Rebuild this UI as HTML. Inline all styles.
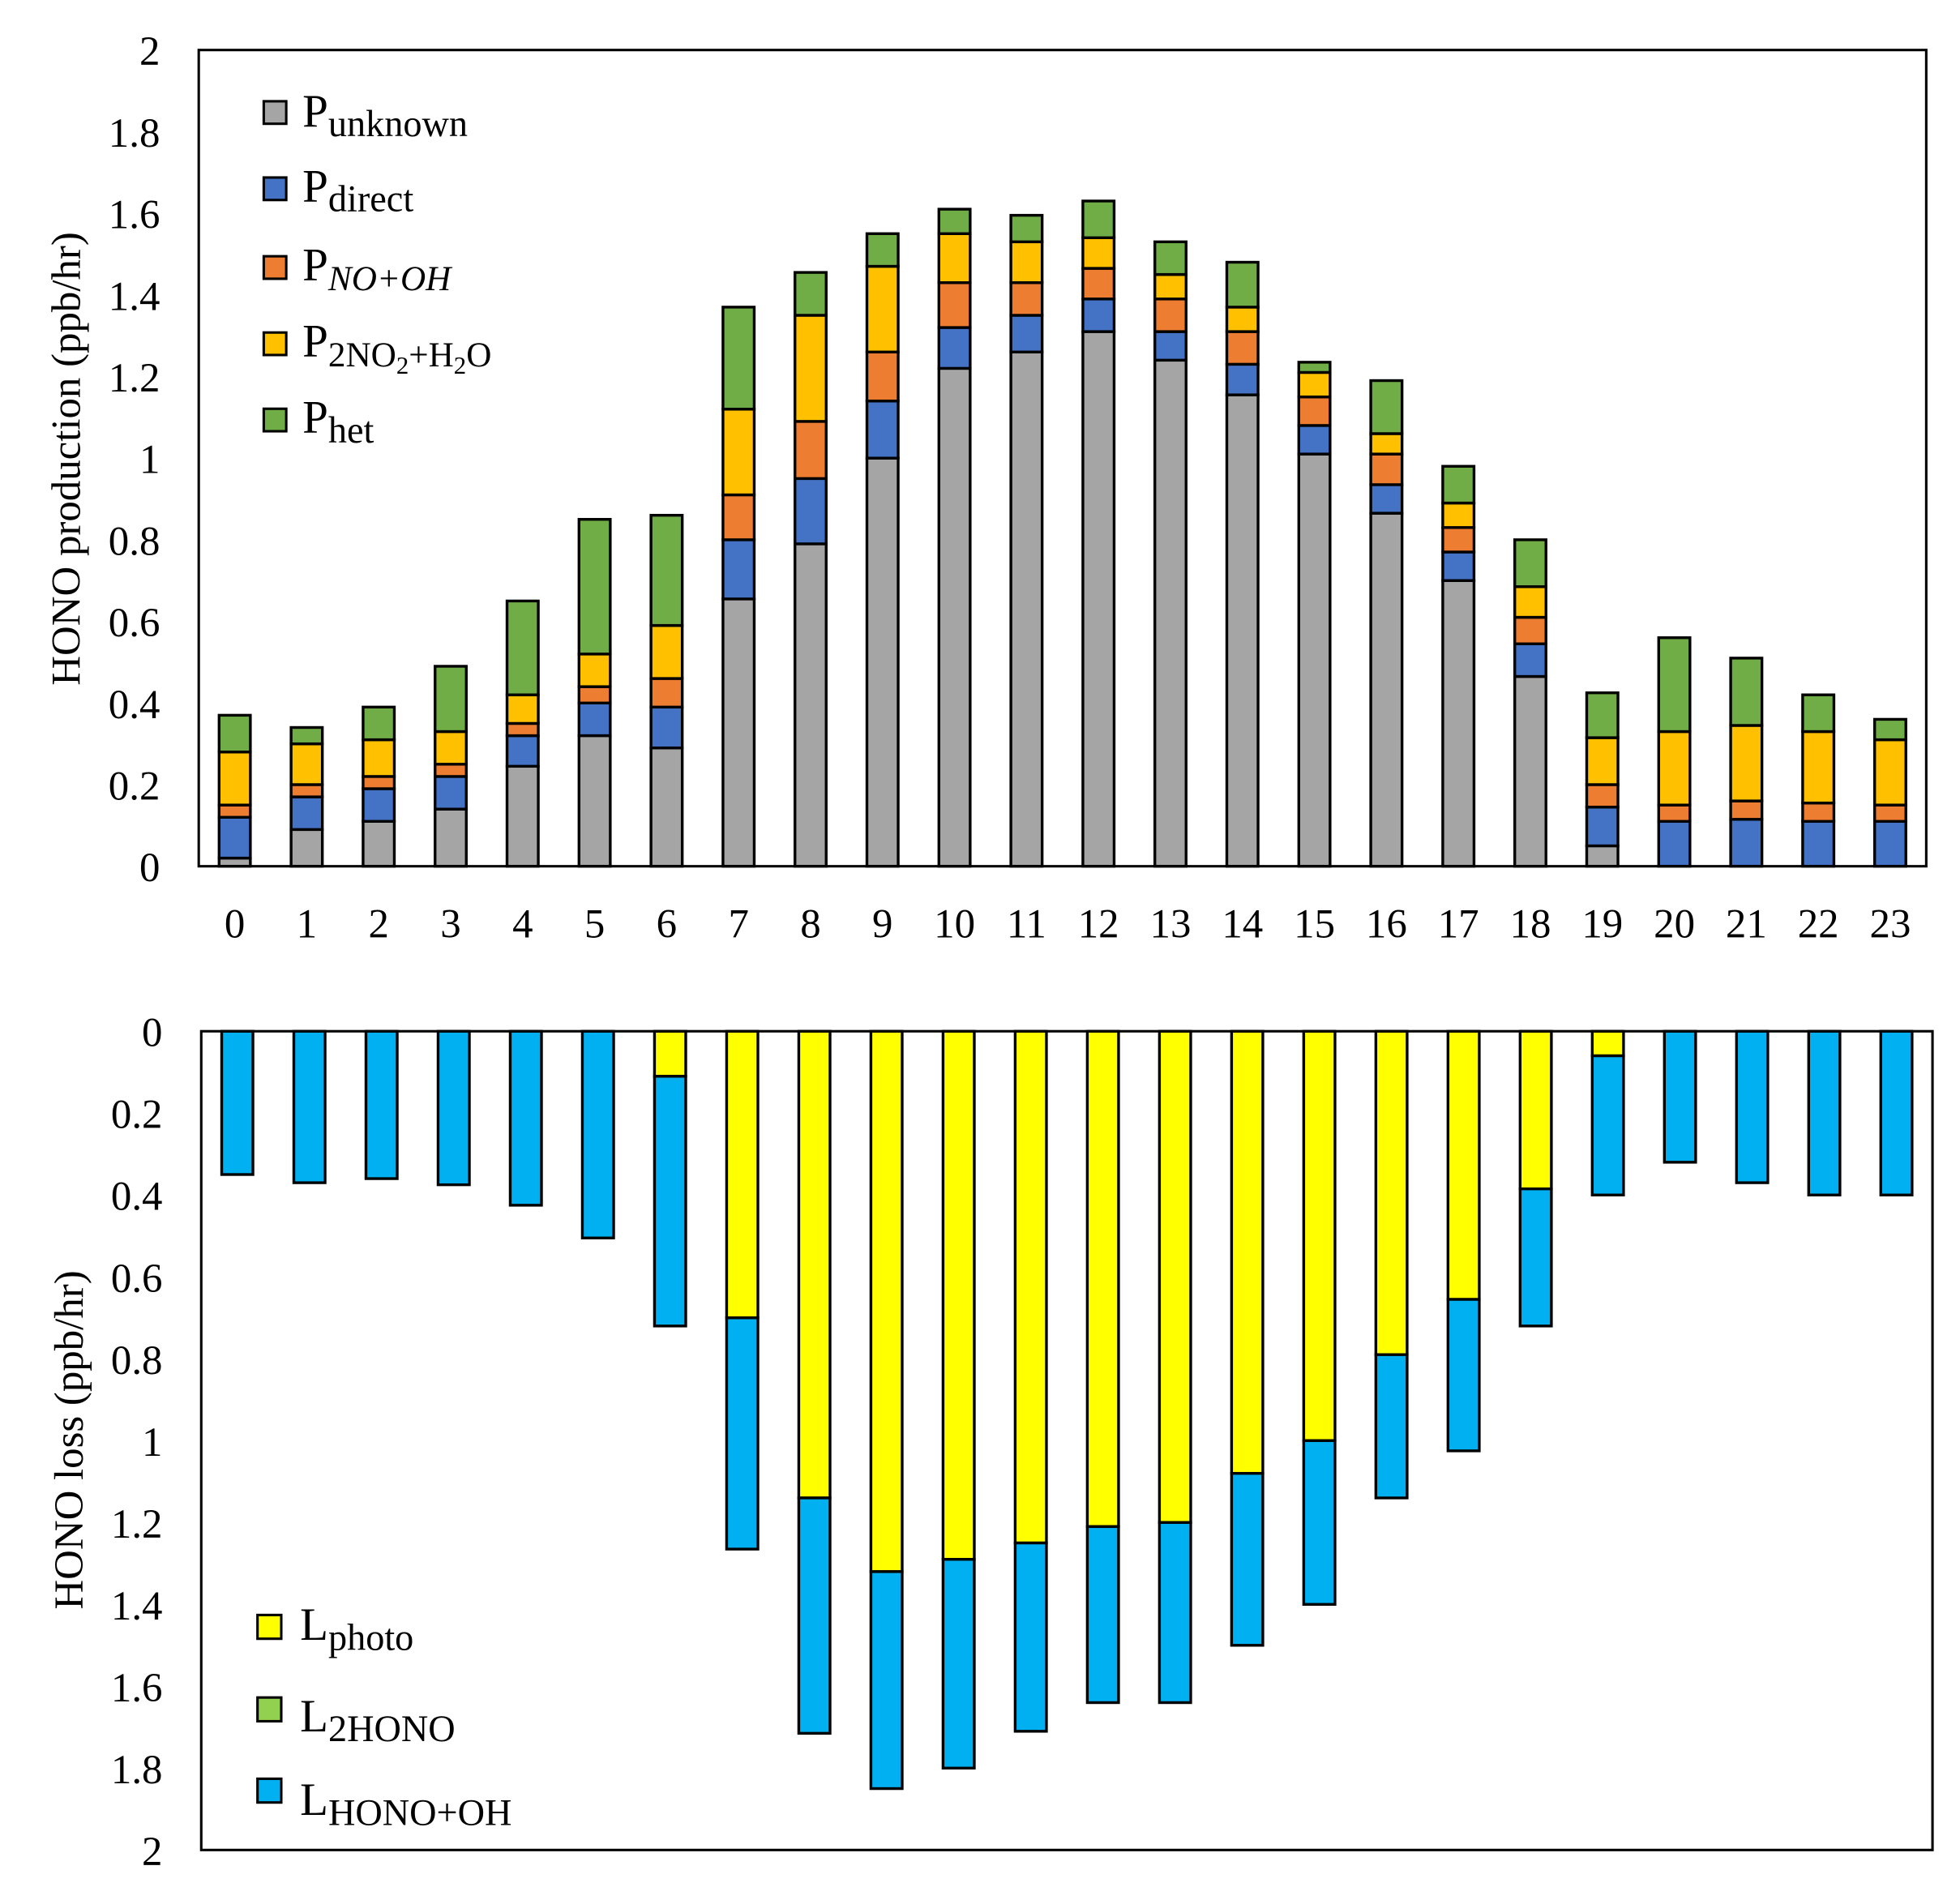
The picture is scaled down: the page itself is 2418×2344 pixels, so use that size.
<!DOCTYPE html>
<html><head><meta charset="utf-8">
<style>
html,body{margin:0;padding:0;background:#fff;}
svg{display:block;font-family:"Liberation Serif",serif;}
</style></head>
<body>
<svg id="chart" width="2418" height="2344" viewBox="0 0 1568 1520" xmlns="http://www.w3.org/2000/svg">
<g id="top"></g>
<g id="bot"></g>
<g font-size="37" fill="#000">
  <rect x="211" y="81" width="18" height="18" fill="#a5a5a5" stroke="#000" stroke-width="2"/>
  <text x="242" y="101">P<tspan font-size="30" dy="8">unknown</tspan></text>
  <rect x="211" y="142" width="18" height="18" fill="#4472c4" stroke="#000" stroke-width="2"/>
  <text x="242" y="161">P<tspan font-size="30" dy="8">direct</tspan></text>
  <rect x="211" y="205" width="18" height="18" fill="#ed7d31" stroke="#000" stroke-width="2"/>
  <text x="242" y="224">P<tspan font-size="28" dy="8" font-style="italic">NO+OH</tspan></text>
  <rect x="211" y="266" width="18" height="18" fill="#ffc000" stroke="#000" stroke-width="2"/>
  <text x="242" y="285">P<tspan font-size="28" dy="8">2NO</tspan><tspan font-size="20" dy="6">2</tspan><tspan font-size="28" dy="-6">+H</tspan><tspan font-size="20" dy="6">2</tspan><tspan font-size="28" dy="-6">O</tspan></text>
  <rect x="211" y="327" width="18" height="18" fill="#70ad47" stroke="#000" stroke-width="2"/>
  <text x="242" y="346">P<tspan font-size="30" dy="8">het</tspan></text>
</g>
<g font-size="37" fill="#000">
  <rect x="206" y="1292" width="19" height="19" fill="#ffff00" stroke="#000" stroke-width="2"/>
  <text x="240" y="1312">L<tspan font-size="30" dy="8">photo</tspan></text>
  <rect x="206" y="1358" width="19" height="19" fill="#92d050" stroke="#000" stroke-width="2"/>
  <text x="240" y="1385">L<tspan font-size="30" dy="8">2HONO</tspan></text>
  <rect x="206" y="1423" width="19" height="19" fill="#00b0f0" stroke="#000" stroke-width="2"/>
  <text x="240" y="1452">L<tspan font-size="30" dy="8">HONO+OH</tspan></text>
</g>
</svg>
<script>
const hours = [0,1,2,3,4,5,6,7,8,9,10,11,12,13,14,15,16,17,18,19,20,21,22,23];
const yTicks = ["0","0.2","0.4","0.6","0.8","1","1.2","1.4","1.6","1.8","2"];
const pUnknown = [0.02,0.09,0.11,0.14,0.245,0.32,0.29,0.655,0.79,1.0,1.22,1.26,1.31,1.24,1.155,1.01,0.865,0.70,0.465,0.05,0,0,0,0];
const pDirect  = [0.10,0.08,0.08,0.08,0.075,0.08,0.10,0.145,0.16,0.14,0.10,0.09,0.08,0.07,0.075,0.07,0.07,0.07,0.08,0.095,0.11,0.115,0.11,0.11];
const pNoOh    = [0.03,0.03,0.03,0.03,0.03,0.04,0.07,0.11,0.14,0.12,0.11,0.08,0.075,0.08,0.08,0.07,0.075,0.06,0.065,0.055,0.04,0.045,0.045,0.04];
const p2No2H2o = [0.13,0.10,0.09,0.08,0.07,0.08,0.13,0.21,0.26,0.21,0.12,0.10,0.075,0.06,0.06,0.06,0.05,0.06,0.075,0.115,0.18,0.185,0.175,0.16];
const pHet     = [0.09,0.04,0.08,0.16,0.23,0.33,0.27,0.25,0.105,0.08,0.06,0.065,0.09,0.08,0.11,0.025,0.13,0.09,0.115,0.11,0.23,0.165,0.09,0.05];
const lPhoto   = [0,0,0,0,0,0,0.11,0.70,1.14,1.32,1.29,1.25,1.21,1.20,1.08,1.0,0.79,0.655,0.385,0.06,0,0,0,0];
const l2Hono   = [0,0,0,0,0,0,0,0,0,0,0,0,0,0,0,0,0,0,0,0,0,0,0,0];
const lHonoOh  = [0.35,0.37,0.36,0.375,0.425,0.505,0.61,0.565,0.575,0.53,0.51,0.46,0.43,0.44,0.42,0.40,0.35,0.37,0.335,0.34,0.32,0.37,0.40,0.40];

const NS = "http://www.w3.org/2000/svg";
function mk(parent, tag, attrs, txt){
  const e = document.createElementNS(NS, tag);
  for (const k in attrs) e.setAttribute(k, attrs[k]);
  if (txt !== undefined) e.textContent = txt;
  parent.appendChild(e);
  return e;
}

function panel(g, opt){
  const {L,R,T,B,inverted,series,colors,names,title,titleY} = opt;
  const n = hours.length, step = (R-L)/n, bw = 25;
  const yv = v => inverted ? T + v/2*(B-T) : B - v/2*(B-T);
  const xc = i => L + step*(i+0.5);
  const frame = mk(g,"rect",{x:L,y:T,width:R-L,height:B-T,fill:"none",stroke:"#000","stroke-width":2});
  
  
  yTicks.forEach((t,i)=>{
    const tx = mk(g,"text",{x:L-31,y:yv(parseFloat(t))+12,"text-anchor":"end","font-size":33},t);
    
    
  });
  hours.forEach((h,i)=>{
    let acc = 0;
    series.forEach((s,k)=>{
      const v = s[i];
      if (v <= 0) return;
      const y1 = yv(acc), y2 = yv(acc+v);
      const r = mk(g,"rect",{x:xc(i)-bw/2,y:Math.min(y1,y2),width:bw,height:Math.abs(y2-y1),fill:colors[k],stroke:"#000","stroke-width":2.2});
      
      
      acc += v;
    });
  });
  if (!inverted){
    hours.forEach((h,i)=>{
      const tx = mk(g,"text",{x:xc(i),y:B+57,"text-anchor":"middle","font-size":33},String(h));
      
      
    });
  }
  const tt = mk(g,"text",{x:0,y:0,"text-anchor":"middle","font-size":33,transform:`translate(${L-95},${titleY}) rotate(-90)`},title);
  
  
}

panel(document.getElementById("top"),{L:159,R:1541,T:40,B:693,inverted:false,
  series:[pUnknown,pDirect,pNoOh,p2No2H2o,pHet],
  colors:["#a5a5a5","#4472c4","#ed7d31","#ffc000","#70ad47"],
  names:["unknown","direct","no-oh","2no2-h2o","het"],
  title:"HONO production (ppb/hr)",titleY:367});
panel(document.getElementById("bot"),{L:161,R:1546,T:825,B:1480,inverted:true,
  series:[lPhoto,l2Hono,lHonoOh],
  colors:["#ffff00","#92d050","#00b0f0"],
  names:["photo","2hono","hono-oh"],
  title:"HONO loss (ppb/hr)",titleY:1152});
</script>
</body></html>
